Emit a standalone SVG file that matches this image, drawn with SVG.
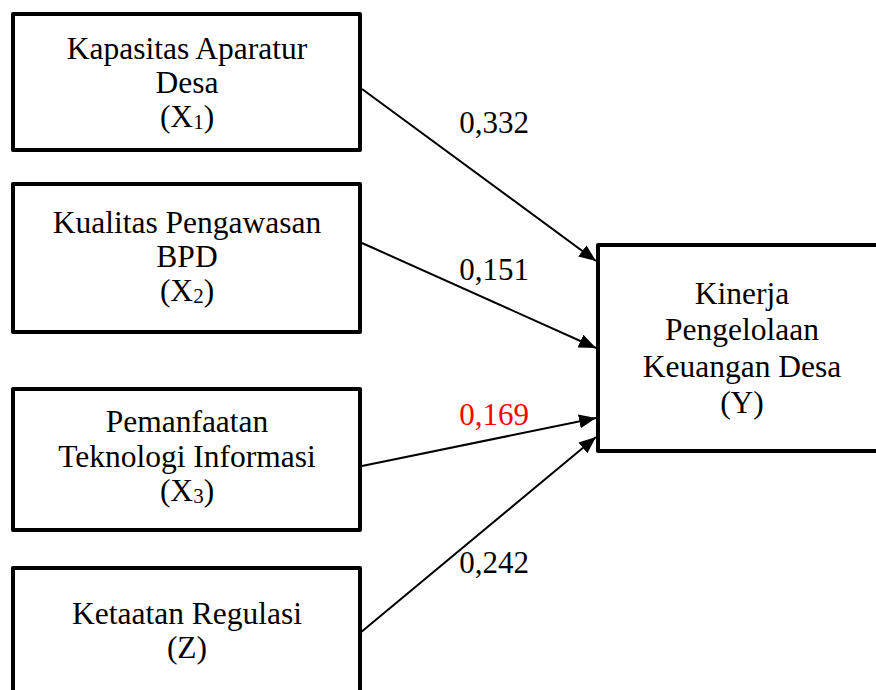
<svg xmlns="http://www.w3.org/2000/svg" width="876" height="690" viewBox="0 0 876 690">
<style>
  .box { fill: #fff; stroke: #000; stroke-width: 4; stroke-linejoin: round; }
  .t { font-family: "Liberation Serif", "Times New Roman", serif; font-size: 31.5px; fill: #000; text-anchor: middle; }
  .lbl { font-family: "Liberation Serif", "Times New Roman", serif; font-size: 31px; fill: #000; text-anchor: middle; }
  .red { fill: #ff0000; }
  .edge { stroke: #000; stroke-width: 2; fill: none; marker-end: url(#arr); }
</style>
<defs>
  <marker id="arr" markerUnits="userSpaceOnUse" markerWidth="18" markerHeight="14" refX="17" refY="7" orient="auto">
    <path d="M0,0 L17,7 L0,14 Z" fill="#000"/>
  </marker>
</defs>
<rect width="876" height="690" fill="#fff"/>
<g id="x1">
  <rect class="box" x="13" y="14" width="347" height="136"/>
  <text class="t" x="187" y="59">Kapasitas Aparatur</text>
  <text class="t" x="187" y="93">Desa</text>
  <text class="t" x="187" y="127">(X<tspan font-size="21" dy="2">1</tspan><tspan dy="-2">)</tspan></text>
</g>
<g id="x2">
  <rect class="box" x="13" y="184" width="347" height="148"/>
  <text class="t" x="187" y="233">Kualitas Pengawasan</text>
  <text class="t" x="187" y="267">BPD</text>
  <text class="t" x="187" y="301">(X<tspan font-size="21" dy="2">2</tspan><tspan dy="-2">)</tspan></text>
</g>
<g id="x3">
  <rect class="box" x="13" y="389" width="347" height="141"/>
  <text class="t" x="187" y="432">Pemanfaatan</text>
  <text class="t" x="187" y="467">Teknologi Informasi</text>
  <text class="t" x="187" y="501">(X<tspan font-size="21" dy="2">3</tspan><tspan dy="-2">)</tspan></text>
</g>
<g id="z">
  <rect class="box" x="13" y="568" width="347" height="140"/>
  <text class="t" x="187" y="624">Ketaatan Regulasi</text>
  <text class="t" x="187" y="658">(Z)</text>
</g>
<g id="y">
  <rect class="box" x="598" y="245" width="300" height="206"/>
  <text class="t" x="742" y="304">Kinerja</text>
  <text class="t" x="742" y="340">Pengelolaan</text>
  <text class="t" x="742" y="377">Keuangan Desa</text>
  <text class="t" x="742" y="413">(Y)</text>
</g>
<g id="connectors">
  <line class="edge" x1="362" y1="89" x2="596" y2="261"/>
  <line class="edge" x1="362" y1="243" x2="596" y2="348"/>
  <line class="edge" x1="362" y1="466" x2="596" y2="418"/>
  <line class="edge" x1="360" y1="633" x2="596" y2="437"/>
  <text class="lbl" x="494" y="133">0,332</text>
  <text class="lbl" x="494" y="280">0,151</text>
  <text class="lbl red" x="494" y="425">0,169</text>
  <text class="lbl" x="494" y="573">0,242</text>
</g>
</svg>
